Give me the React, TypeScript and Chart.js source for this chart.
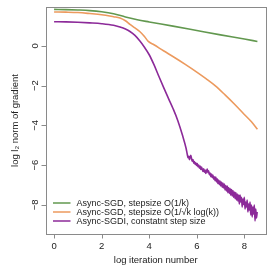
import { useEffect, useRef } from "react";
import { Chart, registerables } from "chart.js";

Chart.register(...registerables);

// ---- data ----
const seriesLabels = [
  "Async-SGD, stepsize O(1/k)",
  "Async-SGD, stepsize O(1/\u221Ak log(k))",
  "Async-SGDI, constatnt step size",
];
const seriesColors = ["#62984f", "#ec9a5e", "#8c2a99"];

const greenX = [0, 0.5, 1, 1.5, 2, 2.5, 3, 3.5, 4, 5, 6, 7, 8, 8.55];
const greenY = [1.83, 1.82, 1.8, 1.77, 1.71, 1.61, 1.45, 1.31, 1.2, 0.99, 0.77, 0.55, 0.34, 0.22];

const orangeX = [0, 0.5, 1, 1.5, 2, 2.5, 2.77, 3.0, 3.19, 3.4, 3.6, 3.8, 3.96, 4.2, 4.6, 5.08, 5.5, 6.0, 6.4, 6.77, 7.2, 7.6, 8.0, 8.3, 8.55];
const orangeY = [1.7, 1.69, 1.67, 1.62, 1.56, 1.46, 1.4, 1.26, 1.08, 0.9, 0.72, 0.47, 0.22, 0.05, -0.25, -0.6, -0.92, -1.32, -1.66, -2.0, -2.48, -2.95, -3.45, -3.82, -4.19];

const purpleX = [
  0, 0.5, 1, 1.5, 2, 2.5, 2.77, 3.0, 3.19, 3.4, 3.6, 3.8, 4.0, 4.2, 4.4, 4.6, 4.8, 5.0, 5.2, 5.4, 5.55,
  5.6, 5.63, 5.66, 5.69, 5.72, 5.75, 5.78, 5.81, 5.84, 5.87, 5.9, 5.93, 5.96, 5.99, 6.02, 6.05, 6.08, 6.11,
  6.14, 6.17, 6.2, 6.23, 6.26, 6.29, 6.32, 6.35, 6.38, 6.41, 6.44, 6.47, 6.5, 6.53, 6.56, 6.59, 6.62, 6.65,
  6.68, 6.71, 6.74, 6.77, 6.8, 6.83, 6.86, 6.89, 6.92, 6.95, 6.98, 7.01, 7.04, 7.07, 7.1, 7.13, 7.16, 7.19,
  7.22, 7.25, 7.28, 7.31, 7.34, 7.37, 7.4, 7.43, 7.46, 7.49, 7.52, 7.55, 7.58, 7.61, 7.64, 7.67, 7.7, 7.73,
  7.76, 7.79, 7.82, 7.85, 7.88, 7.91, 7.94, 7.97, 8.0, 8.03, 8.06, 8.09, 8.12, 8.15, 8.18, 8.21, 8.24, 8.27,
  8.3, 8.33, 8.36, 8.39, 8.42, 8.45, 8.48, 8.51, 8.54,
];
const purpleY = [
  1.21, 1.2, 1.18, 1.15, 1.11, 1.03, 0.94, 0.84, 0.72, 0.52, 0.25, -0.07, -0.45, -0.95, -1.52, -2.08, -2.62, -3.15, -3.75, -4.5, -5.15,
  -5.45, -5.62, -5.55, -5.72, -5.58, -5.5, -5.68, -5.8, -5.72, -5.9, -5.82, -5.96, -5.88, -6.02, -5.92, -6.08, -6.0, -6.15,
  -6.05, -6.22, -6.1, -6.2, -6.32, -6.18, -6.35, -6.25, -6.42, -6.3, -6.2, -6.38, -6.28, -6.48, -6.4, -6.58, -6.45, -6.62,
  -6.5, -6.7, -6.58, -6.78, -6.6, -6.85, -6.68, -6.92, -6.75, -6.98, -6.8, -7.05, -6.85, -7.12, -6.9, -7.15, -6.95, -7.25,
  -7.02, -7.3, -7.05, -7.38, -7.12, -7.42, -7.18, -7.5, -7.22, -7.55, -7.28, -7.62, -7.35, -7.68, -7.38, -7.75, -7.45, -7.8,
  -7.5, -7.95, -7.5, -7.85, -7.62, -8.1, -7.7, -7.98, -7.62, -8.2, -7.85, -8.1, -7.75, -8.35, -7.95, -8.25, -7.85, -8.5,
  -8.0, -8.6, -8.1, -8.45, -8.0, -8.8, -8.2, -8.65, -8.35,
];

const xTicks = [0, 2, 4, 6, 8];
const yTicks = [0, -2, -4, -6, -8];
const xTitle = "log iteration number";
const yTitle = "log l\u2082 norm of gradient";

const FONT = "'Liberation Sans', Arial, Helvetica, sans-serif";

function pairs(xs: number[], ys: number[]) {
  return xs.map((x, i) => ({ x, y: ys[i] }));
}

const axesPlugin = {
  id: "rAxes",
  afterDraw(chart: any) {
    const { ctx, chartArea: a, scales } = chart;
    const xs = scales.x;
    const ys = scales.y;
    ctx.save();
    // box
    ctx.strokeStyle = "#8a8a8a";
    ctx.lineWidth = 1;
    ctx.strokeRect(Math.round(a.left) + 0.5, Math.round(a.top) + 0.5, Math.round(a.right - a.left), Math.round(a.bottom - a.top));
    ctx.fillStyle = "#222";
    ctx.font = `9.5px ${FONT}`;
    // x ticks
    ctx.beginPath();
    xTicks.forEach((v) => {
      const px = Math.round(xs.getPixelForValue(v)) + 0.5;
      ctx.moveTo(px, a.bottom);
      ctx.lineTo(px, a.bottom + 4.5);
    });
    // y ticks
    yTicks.forEach((v) => {
      const py = Math.round(ys.getPixelForValue(v)) + 0.5;
      ctx.moveTo(a.left, py);
      ctx.lineTo(a.left - 4.5, py);
    });
    ctx.stroke();
    ctx.textAlign = "center";
    ctx.textBaseline = "alphabetic";
    xTicks.forEach((v) => {
      ctx.fillText(String(v), xs.getPixelForValue(v), 248.5);
    });
    yTicks.forEach((v) => {
      ctx.save();
      ctx.translate(38, ys.getPixelForValue(v));
      ctx.rotate(-Math.PI / 2);
      ctx.fillText(String(v).replace("-", "\u2212"), 0, 0);
      ctx.restore();
    });
    // titles
    ctx.fillText(xTitle, (a.left + a.right) / 2, 263);
    ctx.save();
    ctx.translate(18, (a.top + a.bottom) / 2);
    ctx.rotate(-Math.PI / 2);
    ctx.fillText(yTitle, 0, 0);
    ctx.restore();
    // legend
    ctx.font = `9px ${FONT}`;
    ctx.textAlign = "left";
    ctx.textBaseline = "middle";
    const rows = [203, 212, 221];
    seriesLabels.forEach((lab, i) => {
      ctx.strokeStyle = seriesColors[i];
      ctx.lineWidth = 1.5;
      ctx.beginPath();
      ctx.moveTo(53, rows[i]);
      ctx.lineTo(70.5, rows[i]);
      ctx.stroke();
      ctx.fillStyle = "#222";
      ctx.fillText(lab, 76.5, rows[i] + 0.5);
    });
    ctx.restore();
  },
};

export default function App() {
  const ref = useRef<HTMLCanvasElement | null>(null);
  useEffect(() => {
    document.body.style.margin = "0";
    const canvas = ref.current;
    if (!canvas) return;
    const mk = (i: number, d: { x: number; y: number }[]) => ({
      label: seriesLabels[i],
      data: d,
      borderColor: seriesColors[i],
      backgroundColor: seriesColors[i],
      borderWidth: 1.6,
      pointRadius: 0,
      fill: false,
      cubicInterpolationMode: "monotone" as const,
    });
    const chart = new Chart(canvas, {
      type: "line",
      data: {
        datasets: [
          mk(2, pairs(purpleX, purpleY)),
          mk(1, pairs(orangeX, orangeY)),
          mk(0, pairs(greenX, greenY)),
        ],
      },
      options: {
        animation: false,
        responsive: false,
        devicePixelRatio: 1,
        layout: { padding: { left: 46, top: 7, right: 7.5, bottom: 39 } },
        plugins: { legend: { display: false }, tooltip: { enabled: false } },
        scales: {
          x: { type: "linear", min: -0.34, max: 8.89, display: false },
          y: { type: "linear", min: -9.46, max: 1.95, display: false },
        },
      },
      plugins: [axesPlugin],
    });
    return () => chart.destroy();
  }, []);
  return (
    <div style={{ width: 273, height: 273, background: "#fff" }}>
      <canvas ref={ref} width={273} height={273} style={{ display: "block" }} />
    </div>
  );
}
